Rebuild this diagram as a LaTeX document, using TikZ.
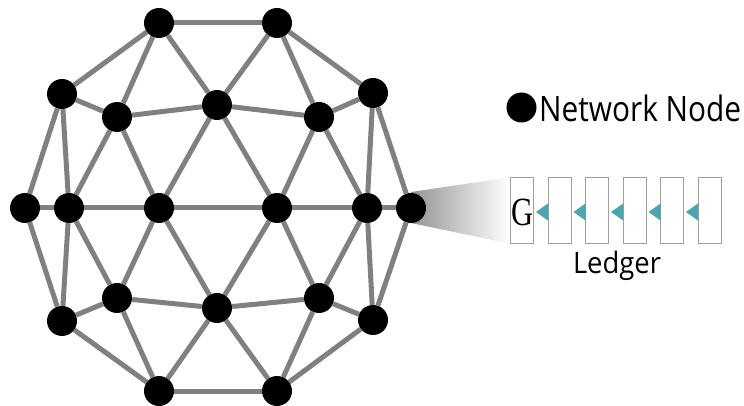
\documentclass[tikz,border=0pt]{standalone}
\usepackage{fontspec}
\newfontfamily\lsans{Open Sans}
\newfontfamily\lserif{Liberation Serif}
\usetikzlibrary{backgrounds,calc}
\definecolor{edgegray}{RGB}{128,128,128}
\definecolor{boxgray}{RGB}{160,160,160}
\definecolor{tealtri}{RGB}{75,165,175}
\tikzset{
  nd/.style={circle, fill=black, minimum size=30pt, inner sep=0pt},
  ed/.style={draw=edgegray, line width=5pt},
  lbox/.style={rectangle, draw=boxgray, line width=1pt, fill=white, minimum width=23pt, minimum height=65pt, inner sep=0pt},
  tri/.style={fill=tealtri, draw=none},
}
\begin{document}
\begin{tikzpicture}[x=1pt,y=-1pt]
\useasboundingbox (0,0) rectangle (744,406);
% nodes
\node[nd] (t1) at (159,23) {};
\node[nd] (t2) at (277,23) {};
\node[nd] (ul) at (62,94) {};
\node[nd] (ur) at (373,93) {};
\node[nd] (il) at (117,117) {};
\node[nd] (ic) at (217,105) {};
\node[nd] (ir) at (319,117) {};
\node[nd] (m0) at (25,208) {};
\node[nd] (m1) at (69,208) {};
\node[nd] (m2) at (159,208) {};
\node[nd] (m3) at (277,208) {};
\node[nd] (m4) at (367,208) {};
\node[nd] (m5) at (411,208) {};
\node[nd] (ll) at (62,321) {};
\node[nd] (l2) at (117,298) {};
\node[nd] (bc) at (217,308) {};
\node[nd] (r2) at (319,298) {};
\node[nd] (lr) at (373,320) {};
\node[nd] (b1) at (159,391) {};
\node[nd] (b2) at (277,391) {};
% legend
\node[nd] (leg) at (521.5,107.5) {};
\node[anchor=base west, inner sep=0pt] (legt) at (539,122) {\resizebox{202pt}{\height}{\lsans\fontsize{35}{35}\selectfont Network Node}};
% ledger boxes
\node[lbox] (k1) at (522,210.5) {};
\node[lbox] (k2) at (559.5,210.5) {};
\node[lbox] (k3) at (597,210.5) {};
\node[lbox] (k4) at (634.5,210.5) {};
\node[lbox] (k5) at (672,210.5) {};
\node[lbox] (k6) at (709.5,210.5) {};
\node[anchor=base, inner sep=0pt] (g) at (522.5,225.5) {\resizebox{22pt}{\height}{\lserif\fontsize{40}{40}\selectfont G}};
\foreach \a/\b in {k1/k2,k2/k3,k3/k4,k4/k5,k5/k6}{
  \fill[tri] ($(\b.west)+(0.5,-7)$) -- ($(\b.west)+(0.5,10)$) -- ($(\a.east)+(2,1.5)$) -- cycle;
}
\node[anchor=base, inner sep=0pt] (ledger) at (617,273) {\resizebox{88pt}{\height}{\lsans\fontsize{29.5}{29.5}\selectfont Ledger}};
% background: edges and cone
\begin{scope}[on background layer]
  \shade[left color=black!42, right color=white] ($(m5.center)+(0,-16)$) -- ($(k1.north west)+(-1,0)$) -- ($(k1.south west)+(-1,0)$) -- ($(m5.center)+(0,15)$) -- cycle;
  \foreach \a/\b in {t1/t2,t1/ul,t1/il,t1/ic,t2/ic,t2/ir,t2/ur,ul/il,ul/m0,ul/m1,il/ic,il/m1,il/m2,ic/m2,ic/m3,ic/ir,ir/m3,ir/m4,ir/ur,ur/m4,ur/m5,
    m0/m1,m1/m2,m2/m3,m3/m4,m4/m5,
    m0/ll,m1/ll,m1/l2,m2/l2,m2/bc,m3/bc,m3/r2,m4/r2,m4/lr,m5/lr,ll/l2,l2/bc,bc/r2,r2/lr,ll/b1,l2/b1,bc/b1,bc/b2,r2/b2,lr/b2,b1/b2}{
    \draw[ed] (\a) -- (\b);
  }
\end{scope}
\end{tikzpicture}
\end{document}
